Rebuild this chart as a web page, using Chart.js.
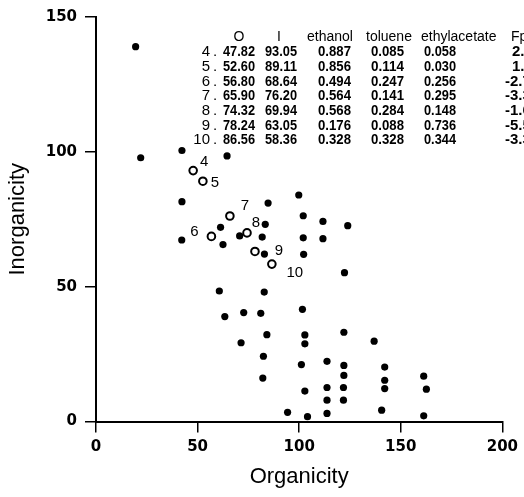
<!DOCTYPE html>
<html>
<head>
<meta charset="utf-8">
<script src="https://cdn.jsdelivr.net/npm/chart.js@4.4.1/dist/chart.umd.min.js"></script>
<style>
  html, body { margin: 0; padding: 0; background: #fff; }
  #wrap { width: 524px; height: 497px; }
</style>
</head>
<body>
<div id="wrap"><canvas id="scatter" width="524" height="497"></canvas></div>
<script>
// unlabelled compounds (filled dots)
const organicity = [19.5, 22, 42.3, 64.5, 42.3, 84.7, 99.8, 102, 111.7, 123.9,
    61.3, 83.3, 42.2, 62.5, 70.7, 81.8, 102, 111.7, 82.9, 102.2,
    122.3, 60.7, 82.8, 101.6, 63.4, 72.7, 81.1, 84.1, 102.8, 102.8,
    122, 136.9, 71.4, 82.4, 101.1, 113.7, 122, 142.1, 161.3, 82.1,
    122, 142.1, 142.1, 162.6, 102.8, 113.7, 121.8, 113.7, 121.8, 94.3,
    104.1, 113.7, 140.6, 161.3];
const inorganicity = [139, 97.8, 100.5, 98.5, 81.5, 81, 84, 76.3, 74.2, 72.6,
    72, 73.1, 67.3, 65.6, 68.8, 68.4, 68.1, 67.8, 62.1, 62,
    55.2, 48.4, 48, 41.6, 38.9, 40.4, 40.1, 32.2, 32.1, 28.8,
    33.1, 29.8, 29.2, 24.2, 21.1, 22.3, 20.8, 20.2, 16.8, 16.1,
    17.1, 15.3, 12.2, 12, 11.3, 12.6, 12.6, 7.9, 7.9, 3.4,
    1.8, 3, 4.2, 2.1];

// numbered compounds (open circles) and the table in the corner
const ids = ['4', '5', '6', '7', '8', '9', '10'];
const valO = [47.82, 52.60, 56.80, 65.90, 74.32, 78.24, 86.56];
const valI = [93.05, 89.11, 68.64, 76.20, 69.94, 63.05, 58.36];
const ethanol = [0.887, 0.856, 0.494, 0.564, 0.568, 0.176, 0.328];
const toluene = [0.085, 0.114, 0.247, 0.141, 0.284, 0.088, 0.328];
const ethylacetate = [0.058, 0.030, 0.256, 0.295, 0.148, 0.736, 0.344];
const fp = ['2.2', '1.6', '-2.7', '-3.3', '-1.6', '-5.5', '-3.3'];

const xTicks = [0, 50, 100, 150, 200];
const yTicks = [0, 50, 100, 150];

const SANS = '"Liberation Sans", Arial, sans-serif';

// little number next to each open circle
const labelShift = {
    '4': [11, -9], '5': [12, 2], '6': [-17, -5], '7': [15, -10],
    '8': [9, -10], '9': [24, -1], '10': [23, 9]
};

const numberLabels = {
    id: 'numberLabels',
    afterDatasetsDraw(chart) {
        const ctx = chart.ctx;
        const x = chart.scales.x, y = chart.scales.y;
        ctx.save();
        ctx.fillStyle = '#000';
        ctx.font = '15px ' + SANS;
        ctx.textAlign = 'center';
        ctx.textBaseline = 'middle';
        ids.forEach((id, i) => {
            const s = labelShift[id];
            ctx.fillText(id, x.getPixelForValue(valO[i]) + s[0], y.getPixelForValue(valI[i]) + s[1]);
        });
        ctx.restore();
    }
};

const cornerTable = {
    id: 'cornerTable',
    afterDraw(chart) {
        const ctx = chart.ctx;
        ctx.save();
        ctx.fillStyle = '#000';
        ctx.textBaseline = 'middle';

        ctx.font = '14px ' + SANS;
        ctx.textAlign = 'center';
        ctx.fillText('O', 239, 37);
        ctx.fillText('I', 279, 37);
        ctx.textAlign = 'left';
        ctx.fillText('ethanol', 307, 37);
        ctx.fillText('toluene', 366, 37);
        ctx.fillText('ethylacetate', 421, 37);
        ctx.fillText('Fp', 511, 37);

        ids.forEach((id, i) => {
            const yy = 52 + i * 14.7;
            ctx.font = '15px ' + SANS;
            ctx.textAlign = 'right';
            ctx.fillText(id, 210, yy);
            ctx.textAlign = 'left';
            ctx.fillText('.', 213, yy);
            ctx.font = 'bold 15px ' + SANS;
            ctx.fillText(valO[i].toFixed(2), 223, yy, 32);
            ctx.fillText(valI[i].toFixed(2), 265, yy, 32);
            ctx.fillText(ethanol[i].toFixed(3), 318, yy, 33);
            ctx.fillText(toluene[i].toFixed(3), 371, yy, 33);
            ctx.fillText(ethylacetate[i].toFixed(3), 424, yy, 32);
            ctx.fillText(fp[i], fp[i].startsWith('-') ? 505 : 512, yy);
        });
        ctx.restore();
    }
};

const axisLook = {
    grid: { drawOnChartArea: false, drawTicks: true, tickLength: 11, color: '#000', lineWidth: 1.5 },
    border: { display: true, color: '#000', width: 2 }
};

new Chart(document.getElementById('scatter'), {
    type: 'scatter',
    data: {
        datasets: [{
            data: organicity.map((v, i) => ({ x: v, y: inorganicity[i] })),
            pointRadius: 3.6,
            pointBackgroundColor: '#000',
            pointBorderColor: '#000',
            pointBorderWidth: 0
        }, {
            data: valO.map((v, i) => ({ x: v, y: valI[i] })),
            pointRadius: 3.8,
            pointBackgroundColor: '#fff',
            pointBorderColor: '#000',
            pointBorderWidth: 2
        }]
    },
    options: {
        responsive: false,
        devicePixelRatio: 1,
        animation: false,
        events: [],
        layout: { padding: { top: 14, right: 18, left: 0, bottom: 0 } },
        plugins: { legend: { display: false }, tooltip: { enabled: false } },
        scales: {
            x: {
                type: 'linear',
                min: xTicks[0],
                max: xTicks[xTicks.length - 1],
                afterBuildTicks(s) { s.ticks = xTicks.map(v => ({ value: v })); },
                afterFit(s) { s.height = 75.5; },
                ticks: { color: '#000', padding: 6, font: { family: '"DejaVu Sans"', size: 15, weight: 'bold' } },
                title: { display: true, text: 'Organicity', color: '#000', font: { family: SANS, size: 22 }, padding: { top: 0, bottom: 7 } },
                ...axisLook
            },
            y: {
                type: 'linear',
                min: yTicks[0],
                max: yTicks[yTicks.length - 1],
                afterBuildTicks(s) { s.ticks = yTicks.map(v => ({ value: v })); },
                afterFit(s) { s.width = 96; },
                ticks: { color: '#000', padding: 8, font: { family: '"DejaVu Sans"', size: 15, weight: 'bold' } },
                title: { display: true, text: 'Inorganicity', color: '#000', font: { family: SANS, size: 22 }, padding: { top: 5, bottom: 0 } },
                ...axisLook
            }
        }
    },
    plugins: [numberLabels, cornerTable]
});
</script>
</body>
</html>
